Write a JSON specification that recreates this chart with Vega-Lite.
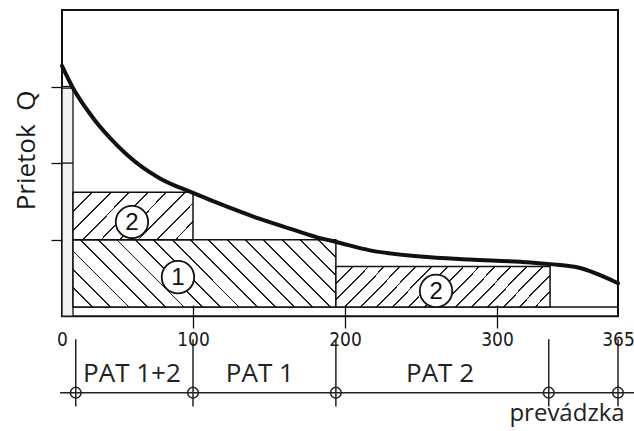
{
  "$schema": "https://vega.github.io/schema/vega-lite/v6.json",
  "width": 556,
  "height": 421,
  "autosize": {"type": "none"},
  "padding": {"left": 62, "top": 10, "right": 16, "bottom": 0},
  "background": "white",
  "config": {"view": {"stroke": null}},
  "datasets": {
    "frame": [{"d0": 0, "d1": 365, "q0": 0, "q1": 4}],
    "strip": [{"d0": 0, "d1": 8.4, "q0": 0, "q1": 2.98}],
    "innerTicks": [{"q": 2}, {"q": 3}],
    "band": [{"d0": 8.4, "d1": 365, "q": 0.12}],
    "zones": [
      {"zone": "1", "d0": 8.4, "d1": 194, "q0": 0.12, "q1": 1.0},
      {"zone": "2a", "d0": 8.4, "d1": 100, "q0": 1.0, "q1": 1.62},
      {"zone": "2b", "d0": 194, "d1": 328.5, "q0": 0.12, "q1": 0.65}
    ],
    "curve": [
      {"day": 0, "q": 3.27}, {"day": 8.4, "q": 2.98}, {"day": 23.7, "q": 2.59},
      {"day": 36.6, "q": 2.33}, {"day": 49.6, "q": 2.11}, {"day": 61.8, "q": 1.94},
      {"day": 74.8, "q": 1.8}, {"day": 100, "q": 1.61}, {"day": 122.4, "q": 1.43},
      {"day": 144.1, "q": 1.27}, {"day": 165.8, "q": 1.13}, {"day": 183.6, "q": 1.02},
      {"day": 194.1, "q": 0.97}, {"day": 216.4, "q": 0.86}, {"day": 249.3, "q": 0.78},
      {"day": 282.2, "q": 0.74}, {"day": 312.4, "q": 0.71}, {"day": 328.5, "q": 0.68},
      {"day": 344.6, "q": 0.63}, {"day": 357, "q": 0.52}, {"day": 365, "q": 0.43}
    ],
    "marks": [
      {"day": 53.4, "q": 1.23, "label": "2"},
      {"day": 88.5, "q": 0.51, "label": "1"},
      {"day": 259.9, "q": 0.33, "label": "2"}
    ],
    "timeline": [{"d0": -1.5, "d1": 374}],
    "boundaries": [{"day": 10.5}, {"day": 100}, {"day": 194}, {"day": 327.8}, {"day": 365}],
    "periods": [
      {"day": 53.4, "label": "PAT 1+2"},
      {"day": 144, "label": "PAT 1"},
      {"day": 262.5, "label": "PAT 2"}
    ],
    "caption": [{"day": 337.6, "text": "prevádzka"}]
  },
  "layer": [
    {
      "data": {"name": "frame"},
      "mark": {"type": "rect", "fill": "white", "stroke": "#111", "strokeWidth": 2},
      "encoding": {
        "x": {"field": "d0", "type": "quantitative",
          "scale": {"domain": [0, 100, 200, 300, 365], "range": [0, 131, 283, 435, 556], "zero": false, "nice": false},
          "axis": {"values": [0, 100, 200, 300, 365], "title": null, "domain": false, "grid": false, "ticks": true, "tickSize": 23, "tickWidth": 1.3,
            "tickColor": {"condition": {"test": "datum.value === 0 || datum.value === 365", "value": "transparent"}, "value": "#111"},
            "offset": -126, "labelFont": "Liberation Sans Narrow, DejaVu Sans Condensed, Liberation Sans", "labelFontSize": 19, "labelColor": "#1a1a1a", "labelPadding": 2, "labelFlush": false, "labelOverlap": false, "labelBound": false, "zindex": 1}},
        "x2": {"field": "d1"},
        "y": {"field": "q0", "type": "quantitative",
          "scale": {"domain": [-1.5, 4], "zero": false, "nice": false},
          "axis": {"values": [1, 2, 3], "labels": false, "domain": false, "grid": false, "ticks": true, "tickSize": 11, "tickWidth": 1.3, "tickColor": "#111", "title": "Prietok \u00a0Q", "titleFont": "Open Sans", "titleFontSize": 26, "titleFontWeight": "normal", "titleColor": "#1a1a1a", "titleX": -28, "titleY": 140, "titleBaseline": "alphabetic", "titleAngle": 270, "titleAlign": "center", "zindex": 1}},
        "y2": {"field": "q1"}
      }
    },
    {
      "data": {"name": "strip"},
      "mark": {"type": "rect", "fill": "#f1f1f1", "stroke": "#111", "strokeWidth": 1.3},
      "encoding": {
        "x": {"field": "d0", "type": "quantitative"},
        "x2": {"field": "d1"},
        "y": {"field": "q0", "type": "quantitative"},
        "y2": {"field": "q1"}
      }
    },
    {
      "data": {"name": "innerTicks"},
      "mark": {"type": "rule", "stroke": "#111", "strokeWidth": 1.3},
      "encoding": {
        "x": {"datum": 0, "type": "quantitative"},
        "x2": {"datum": 8.4},
        "y": {"field": "q", "type": "quantitative"}
      }
    },
    {
      "data": {"name": "band"},
      "mark": {"type": "rule", "stroke": "#111", "strokeWidth": 1.5},
      "encoding": {
        "x": {"field": "d0", "type": "quantitative"},
        "x2": {"field": "d1"},
        "y": {"field": "q", "type": "quantitative"}
      }
    },
    {
      "data": {"name": "zones"},
      "transform": [{"filter": "datum.zone === '1'"}],
      "mark": {"type": "rect", "stroke": "#111", "strokeWidth": 1.5,
        "fill": {"gradient": "linear", "x1": 0, "y1": 1, "x2": 1.179, "y2": 0.698, "stops": [
          {"offset": 0, "color": "#1c1c1c"}, {"offset": 0.0056, "color": "#1c1c1c"}, {"offset": 0.0056, "color": "#ffffff"}, {"offset": 0.0556, "color": "#ffffff"},
          {"offset": 0.0556, "color": "#1c1c1c"}, {"offset": 0.0612, "color": "#1c1c1c"}, {"offset": 0.0612, "color": "#ffffff"}, {"offset": 0.1111, "color": "#ffffff"},
          {"offset": 0.1111, "color": "#1c1c1c"}, {"offset": 0.1167, "color": "#1c1c1c"}, {"offset": 0.1167, "color": "#ffffff"}, {"offset": 0.1667, "color": "#ffffff"},
          {"offset": 0.1667, "color": "#1c1c1c"}, {"offset": 0.1723, "color": "#1c1c1c"}, {"offset": 0.1723, "color": "#ffffff"}, {"offset": 0.2222, "color": "#ffffff"},
          {"offset": 0.2222, "color": "#1c1c1c"}, {"offset": 0.2278, "color": "#1c1c1c"}, {"offset": 0.2278, "color": "#ffffff"}, {"offset": 0.2778, "color": "#ffffff"},
          {"offset": 0.2778, "color": "#1c1c1c"}, {"offset": 0.2834, "color": "#1c1c1c"}, {"offset": 0.2834, "color": "#ffffff"}, {"offset": 0.3333, "color": "#ffffff"},
          {"offset": 0.3333, "color": "#1c1c1c"}, {"offset": 0.3389, "color": "#1c1c1c"}, {"offset": 0.3389, "color": "#ffffff"}, {"offset": 0.3889, "color": "#ffffff"},
          {"offset": 0.3889, "color": "#1c1c1c"}, {"offset": 0.3945, "color": "#1c1c1c"}, {"offset": 0.3945, "color": "#ffffff"}, {"offset": 0.4444, "color": "#ffffff"},
          {"offset": 0.4444, "color": "#1c1c1c"}, {"offset": 0.45, "color": "#1c1c1c"}, {"offset": 0.45, "color": "#ffffff"}, {"offset": 0.5, "color": "#ffffff"},
          {"offset": 0.5, "color": "#1c1c1c"}, {"offset": 0.5056, "color": "#1c1c1c"}, {"offset": 0.5056, "color": "#ffffff"}, {"offset": 0.5556, "color": "#ffffff"},
          {"offset": 0.5556, "color": "#1c1c1c"}, {"offset": 0.5612, "color": "#1c1c1c"}, {"offset": 0.5612, "color": "#ffffff"}, {"offset": 0.6111, "color": "#ffffff"},
          {"offset": 0.6111, "color": "#1c1c1c"}, {"offset": 0.6167, "color": "#1c1c1c"}, {"offset": 0.6167, "color": "#ffffff"}, {"offset": 0.6667, "color": "#ffffff"},
          {"offset": 0.6667, "color": "#1c1c1c"}, {"offset": 0.6723, "color": "#1c1c1c"}, {"offset": 0.6723, "color": "#ffffff"}, {"offset": 0.7222, "color": "#ffffff"},
          {"offset": 0.7222, "color": "#1c1c1c"}, {"offset": 0.7278, "color": "#1c1c1c"}, {"offset": 0.7278, "color": "#ffffff"}, {"offset": 0.7778, "color": "#ffffff"},
          {"offset": 0.7778, "color": "#1c1c1c"}, {"offset": 0.7834, "color": "#1c1c1c"}, {"offset": 0.7834, "color": "#ffffff"}, {"offset": 0.8333, "color": "#ffffff"},
          {"offset": 0.8333, "color": "#1c1c1c"}, {"offset": 0.8389, "color": "#1c1c1c"}, {"offset": 0.8389, "color": "#ffffff"}, {"offset": 0.8889, "color": "#ffffff"},
          {"offset": 0.8889, "color": "#1c1c1c"}, {"offset": 0.8945, "color": "#1c1c1c"}, {"offset": 0.8945, "color": "#ffffff"}, {"offset": 0.9444, "color": "#ffffff"},
          {"offset": 0.9444, "color": "#1c1c1c"}, {"offset": 0.95, "color": "#1c1c1c"}, {"offset": 0.95, "color": "#ffffff"}, {"offset": 1, "color": "#ffffff"}
        ]}},
      "encoding": {
        "x": {"field": "d0", "type": "quantitative"},
        "x2": {"field": "d1"},
        "y": {"field": "q0", "type": "quantitative"},
        "y2": {"field": "q1"}
      }
    },
    {
      "data": {"name": "zones"},
      "transform": [{"filter": "datum.zone === '2a'"}],
      "mark": {"type": "rect", "stroke": "#111", "strokeWidth": 1.5,
        "fill": {"gradient": "linear", "x1": 0, "y1": 0, "x2": 1.207, "y2": 0.47, "stops": [
          {"offset": 0, "color": "#1c1c1c"}, {"offset": 0.0111, "color": "#1c1c1c"}, {"offset": 0.0111, "color": "#ffffff"}, {"offset": 0.1111, "color": "#ffffff"},
          {"offset": 0.1111, "color": "#1c1c1c"}, {"offset": 0.1222, "color": "#1c1c1c"}, {"offset": 0.1222, "color": "#ffffff"}, {"offset": 0.2222, "color": "#ffffff"},
          {"offset": 0.2222, "color": "#1c1c1c"}, {"offset": 0.2333, "color": "#1c1c1c"}, {"offset": 0.2333, "color": "#ffffff"}, {"offset": 0.3333, "color": "#ffffff"},
          {"offset": 0.3333, "color": "#1c1c1c"}, {"offset": 0.3444, "color": "#1c1c1c"}, {"offset": 0.3444, "color": "#ffffff"}, {"offset": 0.4444, "color": "#ffffff"},
          {"offset": 0.4444, "color": "#1c1c1c"}, {"offset": 0.4555, "color": "#1c1c1c"}, {"offset": 0.4555, "color": "#ffffff"}, {"offset": 0.5556, "color": "#ffffff"},
          {"offset": 0.5556, "color": "#1c1c1c"}, {"offset": 0.5667, "color": "#1c1c1c"}, {"offset": 0.5667, "color": "#ffffff"}, {"offset": 0.6667, "color": "#ffffff"},
          {"offset": 0.6667, "color": "#1c1c1c"}, {"offset": 0.6778, "color": "#1c1c1c"}, {"offset": 0.6778, "color": "#ffffff"}, {"offset": 0.7778, "color": "#ffffff"},
          {"offset": 0.7778, "color": "#1c1c1c"}, {"offset": 0.7889, "color": "#1c1c1c"}, {"offset": 0.7889, "color": "#ffffff"}, {"offset": 0.8889, "color": "#ffffff"},
          {"offset": 0.8889, "color": "#1c1c1c"}, {"offset": 0.9, "color": "#1c1c1c"}, {"offset": 0.9, "color": "#ffffff"}, {"offset": 1, "color": "#ffffff"}
        ]}},
      "encoding": {
        "x": {"field": "d0", "type": "quantitative"},
        "x2": {"field": "d1"},
        "y": {"field": "q0", "type": "quantitative"},
        "y2": {"field": "q1"}
      }
    },
    {
      "data": {"name": "zones"},
      "transform": [{"filter": "datum.zone === '2b'"}],
      "mark": {"type": "rect", "stroke": "#111", "strokeWidth": 1.5,
        "fill": {"gradient": "linear", "x1": 0, "y1": 0, "x2": 1.145, "y2": 0.2105, "stops": [
          {"offset": 0, "color": "#1c1c1c"}, {"offset": 0.0074, "color": "#1c1c1c"}, {"offset": 0.0074, "color": "#ffffff"}, {"offset": 0.0625, "color": "#ffffff"},
          {"offset": 0.0625, "color": "#1c1c1c"}, {"offset": 0.0699, "color": "#1c1c1c"}, {"offset": 0.0699, "color": "#ffffff"}, {"offset": 0.125, "color": "#ffffff"},
          {"offset": 0.125, "color": "#1c1c1c"}, {"offset": 0.1324, "color": "#1c1c1c"}, {"offset": 0.1324, "color": "#ffffff"}, {"offset": 0.1875, "color": "#ffffff"},
          {"offset": 0.1875, "color": "#1c1c1c"}, {"offset": 0.1949, "color": "#1c1c1c"}, {"offset": 0.1949, "color": "#ffffff"}, {"offset": 0.25, "color": "#ffffff"},
          {"offset": 0.25, "color": "#1c1c1c"}, {"offset": 0.2574, "color": "#1c1c1c"}, {"offset": 0.2574, "color": "#ffffff"}, {"offset": 0.3125, "color": "#ffffff"},
          {"offset": 0.3125, "color": "#1c1c1c"}, {"offset": 0.3199, "color": "#1c1c1c"}, {"offset": 0.3199, "color": "#ffffff"}, {"offset": 0.375, "color": "#ffffff"},
          {"offset": 0.375, "color": "#1c1c1c"}, {"offset": 0.3824, "color": "#1c1c1c"}, {"offset": 0.3824, "color": "#ffffff"}, {"offset": 0.4375, "color": "#ffffff"},
          {"offset": 0.4375, "color": "#1c1c1c"}, {"offset": 0.4449, "color": "#1c1c1c"}, {"offset": 0.4449, "color": "#ffffff"}, {"offset": 0.5, "color": "#ffffff"},
          {"offset": 0.5, "color": "#1c1c1c"}, {"offset": 0.5074, "color": "#1c1c1c"}, {"offset": 0.5074, "color": "#ffffff"}, {"offset": 0.5625, "color": "#ffffff"},
          {"offset": 0.5625, "color": "#1c1c1c"}, {"offset": 0.5699, "color": "#1c1c1c"}, {"offset": 0.5699, "color": "#ffffff"}, {"offset": 0.625, "color": "#ffffff"},
          {"offset": 0.625, "color": "#1c1c1c"}, {"offset": 0.6324, "color": "#1c1c1c"}, {"offset": 0.6324, "color": "#ffffff"}, {"offset": 0.6875, "color": "#ffffff"},
          {"offset": 0.6875, "color": "#1c1c1c"}, {"offset": 0.6949, "color": "#1c1c1c"}, {"offset": 0.6949, "color": "#ffffff"}, {"offset": 0.75, "color": "#ffffff"},
          {"offset": 0.75, "color": "#1c1c1c"}, {"offset": 0.7574, "color": "#1c1c1c"}, {"offset": 0.7574, "color": "#ffffff"}, {"offset": 0.8125, "color": "#ffffff"},
          {"offset": 0.8125, "color": "#1c1c1c"}, {"offset": 0.8199, "color": "#1c1c1c"}, {"offset": 0.8199, "color": "#ffffff"}, {"offset": 0.875, "color": "#ffffff"},
          {"offset": 0.875, "color": "#1c1c1c"}, {"offset": 0.8824, "color": "#1c1c1c"}, {"offset": 0.8824, "color": "#ffffff"}, {"offset": 0.9375, "color": "#ffffff"},
          {"offset": 0.9375, "color": "#1c1c1c"}, {"offset": 0.9449, "color": "#1c1c1c"}, {"offset": 0.9449, "color": "#ffffff"}, {"offset": 1, "color": "#ffffff"}
        ]}},
      "encoding": {
        "x": {"field": "d0", "type": "quantitative"},
        "x2": {"field": "d1"},
        "y": {"field": "q0", "type": "quantitative"},
        "y2": {"field": "q1"}
      }
    },
    {
      "data": {"name": "curve"},
      "mark": {"type": "line", "color": "#111", "strokeWidth": 4, "interpolate": "monotone", "strokeCap": "round"},
      "encoding": {
        "x": {"field": "day", "type": "quantitative"},
        "y": {"field": "q", "type": "quantitative"}
      }
    },
    {
      "data": {"name": "marks"},
      "mark": {"type": "point", "shape": "circle", "size": 1050, "filled": true, "fill": "white", "fillOpacity": 1, "stroke": "#111", "strokeWidth": 1.8, "opacity": 1},
      "encoding": {
        "x": {"field": "day", "type": "quantitative"},
        "y": {"field": "q", "type": "quantitative"}
      }
    },
    {
      "data": {"name": "marks"},
      "mark": {"type": "text", "font": "Liberation Sans", "fontSize": 24, "color": "#111", "baseline": "middle", "align": "center", "dy": 1},
      "encoding": {
        "x": {"field": "day", "type": "quantitative"},
        "y": {"field": "q", "type": "quantitative"},
        "text": {"field": "label"}
      }
    },
    {
      "data": {"name": "timeline"},
      "mark": {"type": "rule", "stroke": "#222", "strokeWidth": 1.5},
      "encoding": {
        "x": {"field": "d0", "type": "quantitative"},
        "x2": {"field": "d1"},
        "y": {"datum": -1, "type": "quantitative"}
      }
    },
    {
      "data": {"name": "boundaries"},
      "mark": {"type": "rule", "stroke": "#222", "strokeWidth": 1.5},
      "encoding": {
        "x": {"field": "day", "type": "quantitative"},
        "y": {"datum": -0.3, "type": "quantitative"},
        "y2": {"datum": -1.18}
      }
    },
    {
      "data": {"name": "boundaries"},
      "mark": {"type": "point", "shape": "circle", "size": 115, "filled": false, "stroke": "#222", "strokeWidth": 1.5, "opacity": 1},
      "encoding": {
        "x": {"field": "day", "type": "quantitative"},
        "y": {"datum": -1, "type": "quantitative"}
      }
    },
    {
      "data": {"name": "periods"},
      "mark": {"type": "text", "font": "Open Sans", "fontSize": 26, "color": "#222", "baseline": "middle", "align": "center"},
      "encoding": {
        "x": {"field": "day", "type": "quantitative"},
        "y": {"datum": -0.75, "type": "quantitative"},
        "text": {"field": "label"}
      }
    },
    {
      "data": {"name": "caption"},
      "mark": {"type": "text", "font": "Open Sans", "fontSize": 24, "color": "#222", "baseline": "alphabetic", "align": "center"},
      "encoding": {
        "x": {"field": "day", "type": "quantitative"},
        "y": {"datum": -1.37, "type": "quantitative"},
        "text": {"field": "text"}
      }
    }
  ]
}
